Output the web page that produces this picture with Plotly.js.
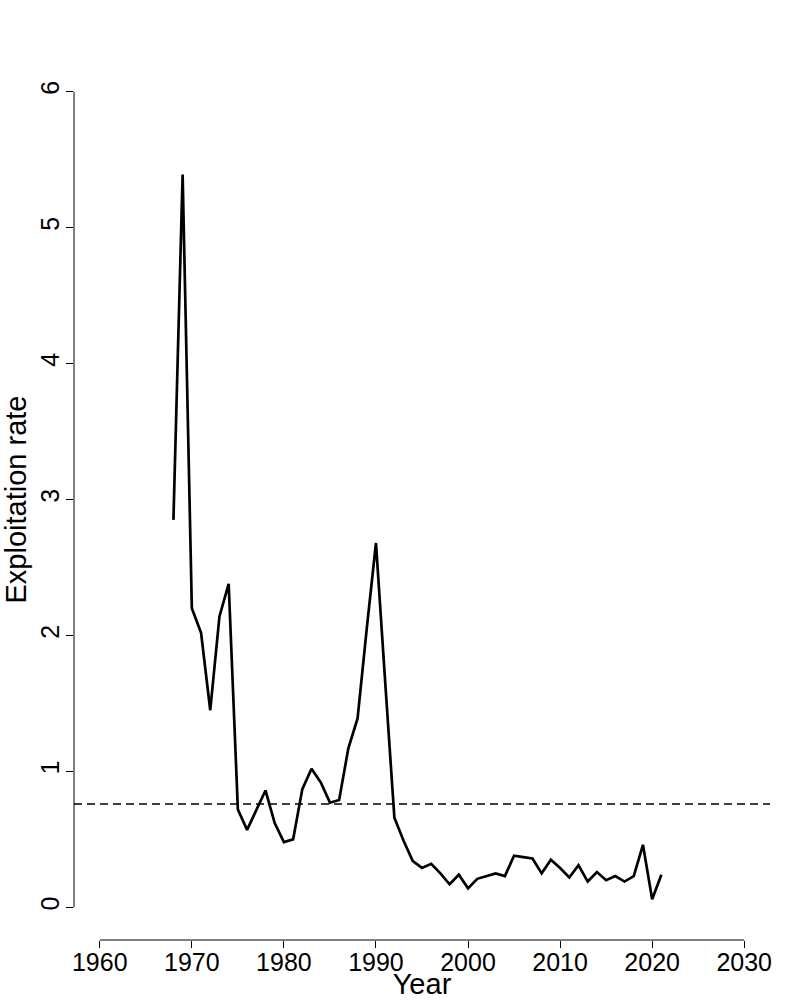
<!DOCTYPE html>
<html>
<head>
<meta charset="utf-8">
<script src="https://cdn.plot.ly/plotly-3.0.1.min.js"></script>
<style>
  body { margin: 0; background: #fff; }
  #chart { width: 800px; height: 1000px; }
</style>
</head>
<body>
<div id="chart"></div>
<script>
// exploitation rate by year
const years = [];
for (let y = 1968; y <= 2021; y++) years.push(y);

const rate = [
  2.85, 5.39, 2.20, 2.02, 1.45, 2.14, 2.38, 0.72, 0.57, 0.72,
  0.86, 0.62, 0.48, 0.50, 0.87, 1.02, 0.92, 0.77, 0.79, 1.17,
  1.39, 2.05, 2.68, 1.66, 0.66, 0.49, 0.34, 0.29, 0.32, 0.25,
  0.17, 0.24, 0.14, 0.21, 0.23, 0.25, 0.23, 0.38, 0.37, 0.36,
  0.25, 0.35, 0.29, 0.22, 0.31, 0.19, 0.26, 0.20, 0.23, 0.19,
  0.23, 0.46, 0.06, 0.24
];

const refRate = 0.76;

const xTicks = [1960, 1970, 1980, 1990, 2000, 2010, 2020, 2030];
const yTicks = [0, 1, 2, 3, 4, 5, 6];

const FONT = '"Liberation Sans", Arial, Helvetica, sans-serif';

// R style: 4% padding around the tick range
function padRange(ticks) {
    const lo = ticks[0], hi = ticks[ticks.length - 1];
    const d = (hi - lo) * 0.04;
    return [lo - d, hi + d];
}

const trace = [{
    x: years,
    y: rate,
    type: 'scatter',
    mode: 'lines',
    line: { color: '#000', width: 2.7 },
    hoverinfo: 'x+y'
}];

const layout = {
    width: 800,
    height: 1000,
    showlegend: false,
    paper_bgcolor: '#fff',
    plot_bgcolor: '#fff',
    font: { family: FONT, color: '#000', size: 25 },
    margin: { l: 74, r: 30, t: 59, b: 60 },
    xaxis: {
        range: padRange(xTicks),
        tickvals: xTicks,
        ticktext: xTicks.map(String),
        ticks: 'outside',
        ticklen: 7,
        tickcolor: '#000',
        ticklabelstandoff: -7,
        showline: false,
        showgrid: false,
        zeroline: false,
        automargin: false,
        tickfont: { size: 25 },
        title: { text: 'Year', font: { size: 29 }, standoff: 6 }
    },
    yaxis: {
        range: padRange(yTicks),
        tickvals: yTicks,
        ticktext: yTicks.map(String),
        ticks: 'outside',
        ticklen: 7,
        tickcolor: '#000',
        tickangle: -90,
        ticklabelstandoff: -3,
        showline: false,
        showgrid: false,
        zeroline: false,
        automargin: false,
        tickfont: { size: 25 },
        title: { text: 'Exploitation rate', font: { size: 29 }, standoff: 4 }
    },
    shapes: [
        // axis lines only across the tick span, like base R
        {
            type: 'line', xref: 'x', yref: 'paper',
            x0: xTicks[0], x1: xTicks[xTicks.length - 1], y0: 0, y1: 0,
            line: { color: '#000', width: 1 }
        },
        {
            type: 'line', xref: 'paper', yref: 'y',
            x0: 0, x1: 0, y0: yTicks[0], y1: yTicks[yTicks.length - 1],
            line: { color: '#000', width: 1 }
        },
        // reference level
        {
            type: 'line', xref: 'paper', yref: 'y',
            x0: 0, x1: 1, y0: refRate, y1: refRate,
            line: { color: '#000', width: 1.5, dash: '8px,5px' }
        }
    ]
};

Plotly.newPlot('chart', trace, layout, { staticPlot: true });
</script>
</body>
</html>
